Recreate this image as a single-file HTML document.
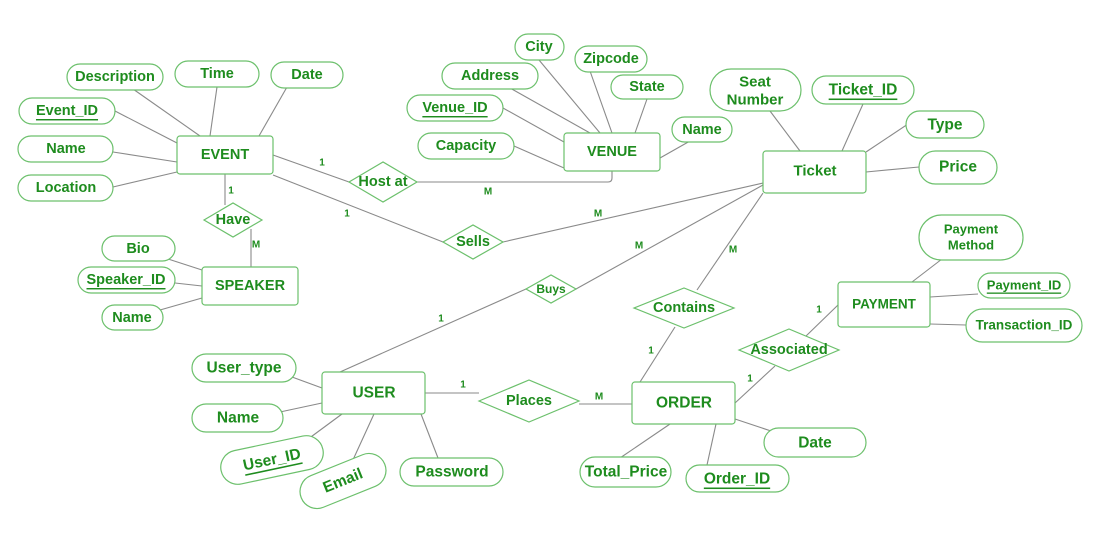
<!DOCTYPE html>
<html><head><meta charset="utf-8"><style>
html,body{margin:0;padding:0;background:#fff;}
svg{display:block;}
text{font-family:"Liberation Sans",sans-serif;font-weight:bold;fill:#1e8c1e;text-anchor:middle;dominant-baseline:central;}
.s{fill:#fff;stroke:#6cc06c;stroke-width:1.2;}
.l{stroke:#8a8a8a;stroke-width:1.1;fill:none;}
.c{font-size:10px;}
.t{font-size:14.5px;}
.u{text-decoration:underline;}
</style></head><body>
<svg width="1100" height="540" viewBox="0 0 1100 540" xmlns="http://www.w3.org/2000/svg">
<!-- lines -->
<g class="l">
<line x1="273" y1="155" x2="349" y2="182"/>
<path d="M417 182 H608 Q612 182 612 178 V171"/>
<line x1="225" y1="174" x2="225" y2="205"/>
<line x1="251" y1="229" x2="251" y2="267"/>
<line x1="273" y1="175" x2="443" y2="242"/>
<line x1="503" y1="242" x2="763" y2="183"/>
<line x1="340" y1="372" x2="526" y2="289"/>
<line x1="576" y1="289" x2="763" y2="185"/>
<line x1="763" y1="193" x2="697" y2="290"/>
<line x1="675" y1="327" x2="640" y2="382"/>
<line x1="735" y1="403" x2="775" y2="366"/>
<line x1="805" y1="337" x2="838" y2="305"/>
<line x1="425" y1="393" x2="479" y2="393"/>
<line x1="579" y1="404" x2="632" y2="404"/>
<!-- event attrs -->
<line x1="133" y1="89" x2="200" y2="136"/>
<line x1="217" y1="87" x2="210" y2="136"/>
<line x1="287" y1="87" x2="259" y2="136"/>
<line x1="115" y1="111" x2="177" y2="143"/>
<line x1="113" y1="152" x2="177" y2="162"/>
<line x1="113" y1="187" x2="177" y2="172"/>
<!-- venue attrs -->
<line x1="539" y1="60" x2="600" y2="133"/>
<line x1="590" y1="71" x2="612" y2="133"/>
<line x1="510" y1="88" x2="590" y2="133"/>
<line x1="647" y1="99" x2="635" y2="133"/>
<line x1="503" y1="108" x2="564" y2="142"/>
<line x1="690" y1="141" x2="660" y2="158"/>
<line x1="514" y1="146" x2="564" y2="168"/>
<!-- ticket attrs -->
<line x1="770" y1="111" x2="800" y2="151"/>
<line x1="863" y1="104" x2="842" y2="151"/>
<line x1="908" y1="124" x2="866" y2="152"/>
<line x1="919" y1="167" x2="866" y2="172"/>
<!-- speaker -->
<line x1="165" y1="258" x2="202" y2="270"/>
<line x1="175" y1="283" x2="202" y2="286"/>
<line x1="160" y1="310" x2="202" y2="298"/>
<!-- payment -->
<line x1="942" y1="259" x2="912" y2="282"/>
<line x1="978" y1="294" x2="930" y2="297"/>
<line x1="966" y1="325" x2="930" y2="324"/>
<!-- user -->
<line x1="292" y1="377" x2="322" y2="388"/>
<line x1="280" y1="412" x2="322" y2="403"/>
<line x1="300" y1="445" x2="342" y2="414"/>
<line x1="352" y1="462" x2="374" y2="414"/>
<line x1="438" y1="458" x2="421" y2="414"/>
<!-- order -->
<line x1="620" y1="458" x2="670" y2="424"/>
<line x1="707" y1="465" x2="716" y2="424"/>
<line x1="774" y1="432" x2="735" y2="419"/>
</g>
<!-- cardinalities -->
<text class="c" x="322" y="163">1</text>
<text class="c" x="488" y="192">M</text>
<text class="c" x="231" y="191">1</text>
<text class="c" x="256" y="245">M</text>
<text class="c" x="347" y="214">1</text>
<text class="c" x="598" y="214">M</text>
<text class="c" x="639" y="246">M</text>
<text class="c" x="441" y="319">1</text>
<text class="c" x="733" y="250">M</text>
<text class="c" x="651" y="351">1</text>
<text class="c" x="750" y="379">1</text>
<text class="c" x="819" y="310">1</text>
<text class="c" x="463" y="385">1</text>
<text class="c" x="599" y="397">M</text>
<!-- entities -->
<g class="s">
<rect x="177" y="136" width="96" height="38" rx="3"/>
<rect x="564" y="133" width="96" height="38" rx="3"/>
<rect x="763" y="151" width="103" height="42" rx="3"/>
<rect x="202" y="267" width="96" height="38" rx="3"/>
<rect x="322" y="372" width="103" height="42" rx="3"/>
<rect x="632" y="382" width="103" height="42" rx="3"/>
<rect x="838" y="282" width="92" height="45" rx="3"/>
</g>
<text class="t" x="225" y="155">EVENT</text>
<text class="t" x="612" y="152">VENUE</text>
<text class="t" x="815" y="171" style="font-size:15px">Ticket</text>
<text class="t" x="250" y="286">SPEAKER</text>
<text class="t" x="374" y="393" style="font-size:15.5px">USER</text>
<text class="t" x="684" y="403" style="font-size:15.5px">ORDER</text>
<text class="t" x="884" y="304" style="font-size:13.5px">PAYMENT</text>
<!-- diamonds -->
<g class="s">
<polygon points="349,182 383,162 417,182 383,202"/>
<polygon points="204,220 233,203 262,220 233,237"/>
<polygon points="443,242 473,225 503,242 473,259"/>
<polygon points="526,289 551,275 576,289 551,303"/>
<polygon points="634,308 684,288 734,308 684,328"/>
<polygon points="739,350 789,329 839,350 789,371"/>
<polygon points="479,401 529,380 579,401 529,422"/>
</g>
<text class="t" x="383" y="182">Host at</text>
<text class="t" x="233" y="220">Have</text>
<text class="t" x="473" y="242">Sells</text>
<text class="t" x="551" y="289" style="font-size:12px">Buys</text>
<text class="t" x="684" y="308">Contains</text>
<text class="t" x="789" y="350">Associated</text>
<text class="t" x="529" y="401">Places</text>
<!-- attributes -->
<g class="s">
<rect x="67" y="64" width="96" height="26" rx="13"/>
<rect x="175" y="61" width="84" height="26" rx="13"/>
<rect x="271" y="62" width="72" height="26" rx="13"/>
<rect x="19" y="98" width="96" height="26" rx="13"/>
<rect x="18" y="136" width="95" height="26" rx="13"/>
<rect x="18" y="175" width="95" height="26" rx="13"/>
<rect x="515" y="34" width="49" height="26" rx="13"/>
<rect x="575" y="46" width="72" height="26" rx="13"/>
<rect x="442" y="63" width="96" height="26" rx="13"/>
<rect x="611" y="75" width="72" height="24" rx="12"/>
<rect x="407" y="95" width="96" height="26" rx="13"/>
<rect x="672" y="117" width="60" height="25" rx="12.5"/>
<rect x="418" y="133" width="96" height="26" rx="13"/>
<rect x="710" y="69" width="91" height="42" rx="21"/>
<rect x="812" y="76" width="102" height="28" rx="14"/>
<rect x="906" y="111" width="78" height="27" rx="13.5"/>
<rect x="919" y="151" width="78" height="33" rx="16.5"/>
<rect x="102" y="236" width="73" height="25" rx="12.5"/>
<rect x="78" y="267" width="97" height="26" rx="13"/>
<rect x="102" y="305" width="61" height="25" rx="12.5"/>
<rect x="919" y="215" width="104" height="45" rx="22.5"/>
<rect x="978" y="273" width="92" height="25" rx="12.5"/>
<rect x="966" y="309" width="116" height="33" rx="16.5"/>
<rect x="192" y="354" width="104" height="28" rx="14"/>
<rect x="192" y="404" width="91" height="28" rx="14"/>
<rect x="220" y="443" width="104" height="34" rx="17" transform="rotate(-12 272 460)"/>
<rect x="298" y="464" width="90" height="34" rx="17" transform="rotate(-22 343 481)"/>
<rect x="400" y="458" width="103" height="28" rx="14"/>
<rect x="580" y="457" width="91" height="30" rx="15"/>
<rect x="686" y="465" width="103" height="27" rx="13.5"/>
<rect x="764" y="428" width="102" height="29" rx="14.5"/>
</g>
<g class="t">
<text x="115" y="77">Description</text>
<text x="217" y="74">Time</text>
<text x="307" y="75">Date</text>
<text x="67" y="111" class="u">Event_ID</text>
<text x="66" y="149">Name</text>
<text x="66" y="188">Location</text>
<text x="539" y="47">City</text>
<text x="611" y="59">Zipcode</text>
<text x="490" y="76">Address</text>
<text x="647" y="87">State</text>
<text x="455" y="108" class="u">Venue_ID</text>
<text x="702" y="130">Name</text>
<text x="466" y="146">Capacity</text>
<text x="755" y="82" style="font-size:15px">Seat</text>
<text x="755" y="100" style="font-size:15px">Number</text>
<text x="863" y="90" class="u" style="font-size:15.5px">Ticket_ID</text>
<text x="945" y="125" style="font-size:15.5px">Type</text>
<text x="958" y="167" style="font-size:15.5px">Price</text>
<text x="138" y="249">Bio</text>
<text x="126" y="280" class="u">Speaker_ID</text>
<text x="132" y="318">Name</text>
<text x="971" y="229" style="font-size:13px">Payment</text>
<text x="971" y="245" style="font-size:13px">Method</text>
<text x="1024" y="285" class="u" style="font-size:13px">Payment_ID</text>
<text x="1024" y="325" style="font-size:13.5px">Transaction_ID</text>
<text x="244" y="368" style="font-size:15.5px">User_type</text>
<text x="238" y="418" style="font-size:15.5px">Name</text>
<text x="272" y="460" class="u" style="font-size:15.5px" transform="rotate(-12 272 460)">User_ID</text>
<text x="343" y="481" style="font-size:15.5px" transform="rotate(-22 343 481)">Email</text>
<text x="452" y="472" style="font-size:15.5px">Password</text>
<text x="626" y="472" style="font-size:15.5px">Total_Price</text>
<text x="737" y="479" class="u" style="font-size:15.5px">Order_ID</text>
<text x="815" y="443" style="font-size:15.5px">Date</text>
</g>
</svg>
</body></html>
